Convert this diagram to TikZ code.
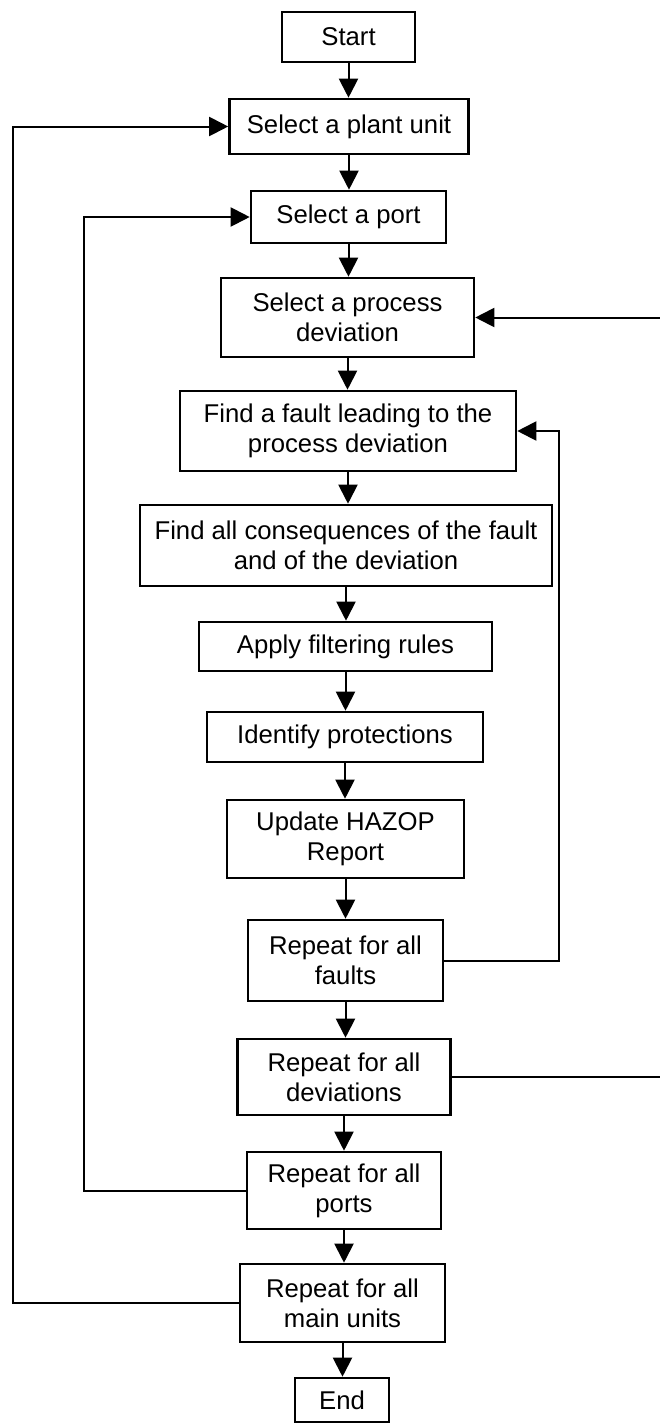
\documentclass[tikz,border=0pt]{standalone}
\usepackage{fontspec}
\setmainfont{Liberation Sans}
\usetikzlibrary{arrows.meta}
\begin{document}
\begin{tikzpicture}[x=1pt,y=-1pt,
  stepbox/.style={draw,line width=2.6pt,rectangle,inner sep=0pt,align=center,
    font=\fontsize{25.7}{30}\selectfont},
  flow/.style={line width=2pt,-{Triangle[length=19pt,width=19pt]}},
  back/.style={line width=2pt,-{Triangle[length=19pt,width=19pt]}}]
\useasboundingbox (0,0) rectangle (659,1425);
\fill[white] (0,0) rectangle (659,1425);

% process steps (centre, width, height)
\node[stepbox,minimum width=133pt,minimum height=50pt] (start) at (348.5,37) {Start};
\node[stepbox,minimum width=239pt,minimum height=55pt] (plant) at (349,126.5) {Select a plant unit};
\node[stepbox,minimum width=195pt,minimum height=52pt] (port) at (348.5,217) {Select a port};
\node[stepbox,minimum width=253pt,minimum height=79pt] (dev) at (347.5,317.5) {Select a process\\deviation};
\node[stepbox,minimum width=336pt,minimum height=80pt] (fault) at (348,431) {Find a fault leading to the\\process deviation};
\node[stepbox,minimum width=412pt,minimum height=81pt] (cons) at (346,545.5) {Find all consequences of the fault\\and of the deviation};
\node[stepbox,minimum width=293pt,minimum height=49pt] (filt) at (345.5,646.5) {Apply filtering rules};
\node[stepbox,minimum width=276pt,minimum height=50pt] (prot) at (345,737) {Identify protections};
\node[stepbox,minimum width=237pt,minimum height=78pt] (hazop) at (345.5,839) {Update HAZOP\\Report};
\node[stepbox,minimum width=195pt,minimum height=81pt] (faults) at (345.5,960.5) {Repeat for all\\faults};
\node[stepbox,minimum width=213pt,minimum height=76pt] (devs) at (344,1077) {Repeat for all\\deviations};
\node[stepbox,minimum width=194pt,minimum height=77pt] (ports) at (344,1190.5) {Repeat for all\\ports};
\node[stepbox,minimum width=205pt,minimum height=78pt] (units) at (342.5,1303) {Repeat for all\\main units};
\node[stepbox,minimum width=94pt,minimum height=44pt] (end) at (342,1400) {End};

% main sequence
\foreach \a/\b in {start/plant,plant/port,port/dev,dev/fault,fault/cons,cons/filt,
                   filt/prot,prot/hazop,hazop/faults,faults/devs,devs/ports,ports/units,units/end}
  \draw[flow] (\a.south) -- (\a.south |- \b.north);

% loop-back lines
\coordinate (rfault) at (559,0);
\coordinate (rdev) at (664,0);
\coordinate (lport) at (84,0);
\coordinate (lunit) at (13,0);
\draw[back] (faults.east) -| (rfault |- fault.east) -- (fault.east);
\draw[back] (devs.east) -| (rdev |- dev.east) -- (dev.east);
\draw[back] (ports.west) -| (lport |- port.west) -- (port.west);
\draw[back] (units.west) -| (lunit |- plant.west) -- (plant.west);
\end{tikzpicture}
\end{document}
